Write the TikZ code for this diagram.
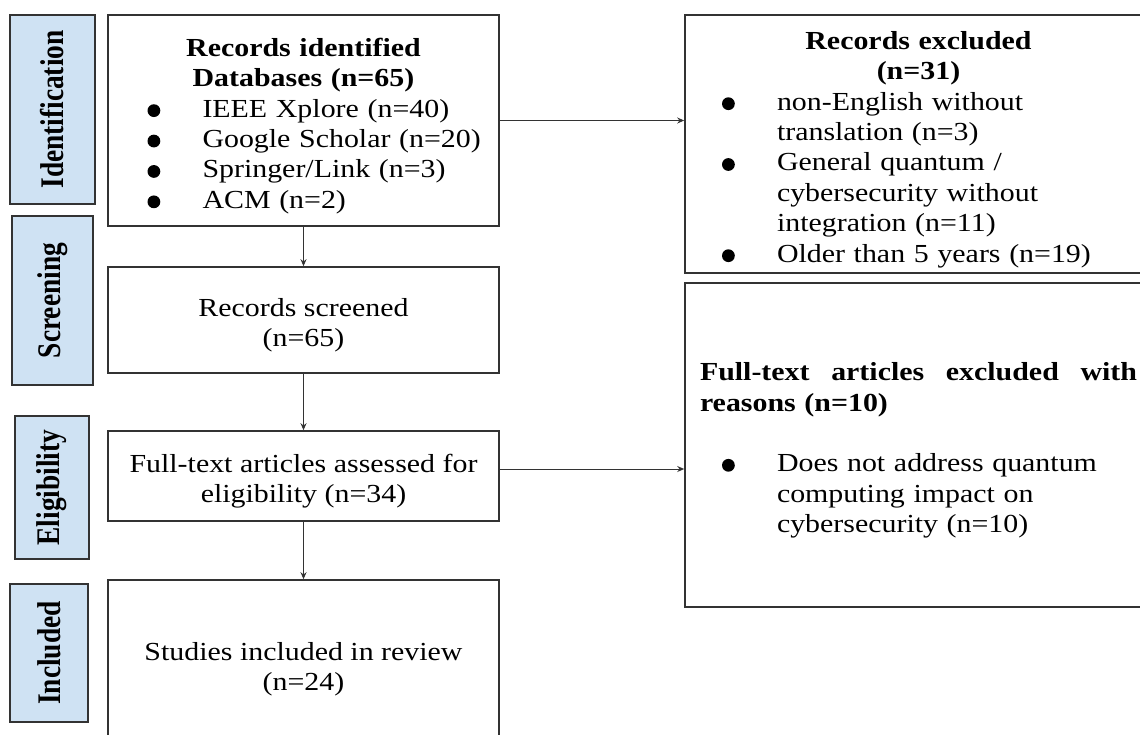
\documentclass[tikz,border=0pt]{standalone}
\usepackage{fontspec}
\setmainfont{Liberation Serif}[FakeStretch=1.15]
\newfontfamily\sidefont{Liberation Serif}[FakeStretch=0.83]
\usepackage{xcolor}
\usepackage{tikz}
\usetikzlibrary{arrows.meta, positioning}
\definecolor{stagefill}{HTML}{CFE2F3}
\definecolor{linegray}{HTML}{333333}
\newcommand{\bul}{\tikz\fill (0,0) circle (3.2pt);}
\newcommand{\hd}[2]{\makebox[#1][c]{\bfseries #2}}
\newcommand{\itm}[1]{\mbox{\makebox[27.5pt][l]{\bul}#1}}
\newcommand{\nudge}{\rule{0pt}{14.5pt}}

\begin{document}
\begin{tikzpicture}[x=0.5pt, y=-0.5pt,
  stage/.style={draw=linegray, line width=0.8pt, fill=stagefill, rotate=90, inner sep=0pt,
    font=\sidefont\bfseries\fontsize{16.5}{18}\selectfont},
  box/.style={draw=linegray, line width=0.8pt, inner sep=0pt,
    font=\fontsize{13}{15.2}\selectfont},
  conn/.style={-{Stealth[length=3.5pt, width=3pt]}, line width=0.5pt, draw=linegray}]
  \path[use as bounding box, fill=white] (0,0) rectangle (1140,734);

  % stage labels
  \node[stage, minimum width=94.5pt, minimum height=42.5pt] (IdLab) at (52.5,109.5) {Identification};
  \node[stage, minimum width=84.5pt, minimum height=40.5pt] (ScrLab) at (52.5,300.5) {Screening};
  \node[stage, minimum width=71.5pt, minimum height=37pt] (EliLab) at (52,487.5) {Eligibility};
  \node[stage, minimum width=69pt, minimum height=39pt] (IncLab) at (49,653) {Included};

  % main column
  \node[box, minimum width=195.5pt, minimum height=105.5pt, text width=156pt, align=left] (Ident) at (303.5,120.5) {
    \nudge\hd{156pt}{Records identified}\\
    \hd{156pt}{Databases (n=65)}\\
    \itm{IEEE Xplore (n=40)}\\
    \itm{Google Scholar (n=20)}\\
    \itm{Springer/Link (n=3)}\\
    \itm{ACM (n=2)}};
  \node[box, minimum width=195.5pt, minimum height=53pt, align=center] (Screen) at (303.5,320) {\nudge Records screened\\(n=65)};
  \node[box, minimum width=195.5pt, minimum height=45pt, align=center] (Elig) at (303.5,476) {\nudge Full-text articles assessed for\\eligibility (n=34)};
  \node[box, minimum width=195.5pt, minimum height=83.5pt, align=center] (Incl) at (303.5,663.5) {\nudge Studies included in review\\(n=24)};

  % exclusions
  \node[box, minimum width=233.5pt, minimum height=129pt, text width=196.5pt, align=left] (Excl) at (918.5,144) {
    \nudge\hd{196.5pt}{Records excluded}\\
    \hd{196.5pt}{(n=31)}\\
    \itm{non-English without}\\
    \hspace*{27.5pt}translation (n=3)\\
    \itm{General quantum /}\\
    \hspace*{27.5pt}cybersecurity without\\
    \hspace*{27.5pt}integration (n=11)\\
    \itm{Older than 5 years (n=19)}};
  \node[box, minimum width=233.5pt, minimum height=162pt, text width=218.5pt, align=left] (FTExcl) at (918.5,445) {
    \nudge\makebox[218.5pt][l]{\bfseries Full-text\hfill articles\hfill excluded\hfill with}\\
    \textbf{reasons (n=10)}\\[15pt]
    \hspace*{11pt}\itm{Does not address quantum}\\
    \hspace*{38.5pt}computing impact on\\
    \hspace*{38.5pt}cybersecurity (n=10)};

  \draw[conn] (Ident) -- (Screen);
  \draw[conn] (Screen) -- (Elig);
  \draw[conn] (Elig) -- (Incl);
  \draw[conn] (Ident.east) -- (Ident.east -| Excl.west);
  \draw[conn] ([yshift=3.5pt]Elig.east) -- ([yshift=3.5pt]Elig.east -| FTExcl.west);
\end{tikzpicture}
\end{document}
